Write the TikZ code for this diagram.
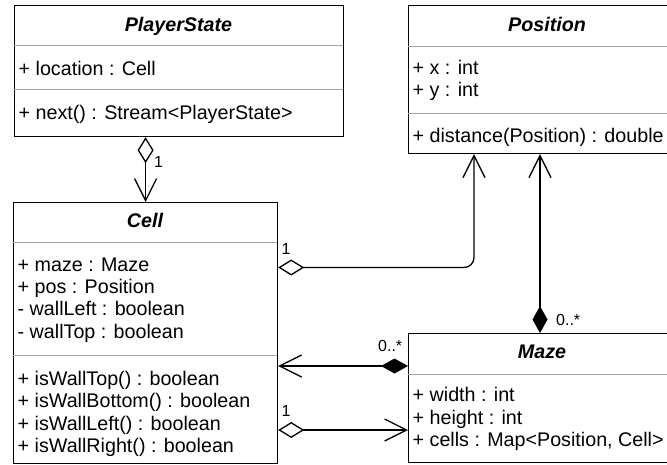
\documentclass[tikz,border=0pt]{standalone}
\usepackage{fontspec}
\setmainfont{Liberation Sans}
\usetikzlibrary{arrows.meta,calc}
\definecolor{divgray}{RGB}{165,165,165}
\begin{document}
\begin{tikzpicture}[x=1pt,y=-1pt,
  box/.style={draw=black, line width=1.2pt, inner sep=0pt, anchor=north west},
  txt/.style={anchor=base west, inner sep=0pt, font=\fontsize{19.7}{22.6}\selectfont},
  ttl/.style={anchor=base, inner sep=0pt, font=\fontsize{19.7}{22.6}\selectfont\bfseries\itshape},
  lbl/.style={anchor=base west, inner sep=0pt, font=\fontsize{16}{18}\selectfont},
  div/.style={draw=divgray, line width=1pt},
  conn/.style={line width=1.3pt, line join=round},
  agg/.style={conn, arrows={Diamond[open,length=26pt,width=16pt]-Straight Barb[length=22pt,width=22pt]}},
  comp/.style={conn, arrows={Diamond[length=27pt,width=15pt]-Straight Barb[length=22pt,width=22pt]}},
]
\useasboundingbox (0,0) rectangle (667,464);
\clip (0,0) rectangle (667,464);

% PlayerState
\node[box, minimum width=329pt, minimum height=131pt] (ps) at (14,5) {};
\draw[div] (14,45) -- (343,45);
\draw[div] (14,89) -- (343,89);
\node[ttl] (psT) at (178.5,31) {PlayerState};
\node[txt] (psA) at (18.5,75) {+ location : Cell};
\node[txt] (psM) at (18.5,119.5) {+ next() : Stream<PlayerState>};

% Position
\node[box, minimum width=278pt, minimum height=148pt] (pos) at (408,5) {};
\draw[div] (408,46) -- (686,46);
\draw[div] (408,113) -- (686,113);
\node[ttl] (posT) at (547,31) {Position};
\node[txt] (posA1) at (412.5,74) {+ x : int};
\node[txt] (posA2) at (412.5,96.7) {+ y : int};
\node[txt] (posM) at (412.5,142) {+ distance(Position) : double};

% Cell
\node[box, minimum width=264pt, minimum height=261pt] (cell) at (13,202) {};
\draw[div] (13,242) -- (277,242);
\draw[div] (13,355) -- (277,355);
\node[ttl] (cellT) at (145,227) {Cell};
\node[txt] (cA1) at (17.5,271) {+ maze : Maze};
\node[txt] (cA2) at (17.5,293) {+ pos : Position};
\node[txt] (cA3) at (17.5,315.5) {- wallLeft : boolean};
\node[txt] (cA4) at (17.5,338) {- wallTop : boolean};
\node[txt] (cM1) at (17.5,385) {+ isWallTop() : boolean};
\node[txt] (cM2) at (17.5,407.5) {+ isWallBottom() : boolean};
\node[txt] (cM3) at (17.5,430) {+ isWallLeft() : boolean};
\node[txt] (cM4) at (17.5,452.5) {+ isWallRight() : boolean};

% Maze
\node[box, minimum width=268pt, minimum height=129pt] (maze) at (408,333) {};
\draw[div] (408,374) -- (676,374);
\node[ttl] (mazeT) at (542,358) {Maze};
\node[txt] (mA1) at (412.5,401.7) {+ width : int};
\node[txt] (mA2) at (412.5,424) {+ height : int};
\node[txt] (mA3) at (412.5,446) {+ cells : Map<Position, Cell>};

% attachment points
\coordinate (cP) at ($(cell.north east)+(0,65.5)$);
\coordinate (pC) at ($(pos.south west)+(66,0)$);
\coordinate (mP) at ($(maze.north west)+(132,0)$);
\coordinate (mC) at ($(maze.north west)+(0,33)$);
\coordinate (cM) at ($(cell.north east)+(0,228)$);

% connectors
\draw[agg] (cell.north |- ps.south) -- (cell.north);
\draw[agg, rounded corners=10pt] (cP) -| (pC);
\draw[comp] (mP) -- (mP |- pos.south);
\draw[comp] (mC) -- (mC -| cell.east);
\draw[agg] (cM) -- (cM -| maze.west);

% multiplicities
\node[lbl] (l1) at (154,167) {1};
\node[lbl] (l2) at (281.5,254.3) {1};
\node[lbl] (l3) at (556,325) {0..*};
\node[lbl] (l4) at (378,351.7) {0..*};
\node[lbl] (l5) at (281.5,416.7) {1};
\end{tikzpicture}
\end{document}
